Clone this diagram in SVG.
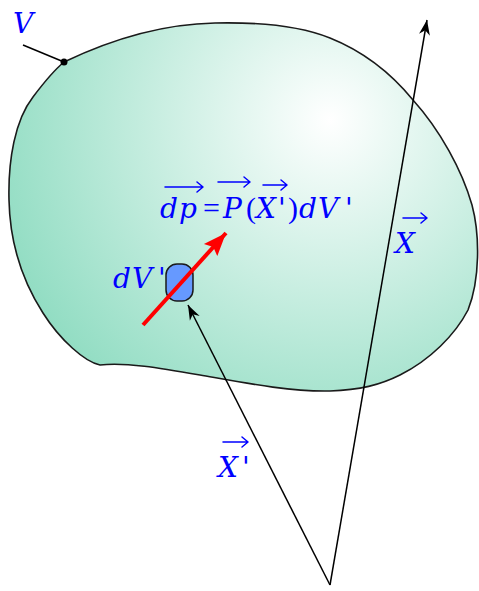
<svg xmlns="http://www.w3.org/2000/svg" width="479" height="591" viewBox="0 0 479 591">
<defs>
<radialGradient id="vol" gradientUnits="userSpaceOnUse" cx="330" cy="120" r="345">
<stop offset="0" stop-color="#ffffff"/>
<stop offset="1" stop-color="#92ddc3"/>
</radialGradient>
<marker id="ah" viewBox="-16 -7 17 14" refX="0" refY="0" markerWidth="17" markerHeight="14" orient="auto" markerUnits="userSpaceOnUse">
<path d="M0,0 L-15,-5.5 L-10.5,0 L-15,5.5 Z" fill="#000"/>
</marker>
<marker id="rh" viewBox="-24 -10 25 20" refX="0" refY="0" markerWidth="25" markerHeight="20" orient="auto" markerUnits="userSpaceOnUse">
<path d="M0,0 L-23,-9 L-19,0 L-23,9 Z" fill="#ff0000"/>
</marker>
</defs>
<style>
.m{font-family:"DejaVu Serif","Liberation Serif",serif;font-style:italic;font-size:28px;fill:#0000ff}
.u{font-style:normal;font-family:"Liberation Serif",serif;font-size:30px}
.va{fill:none;stroke:#0000ff;stroke-width:1.5;stroke-linecap:round;stroke-linejoin:round}
.ln{fill:none;stroke:#000;stroke-width:1.5}
</style>

<g id="volume">
<path d="M64,62 C110,40 160,24 215,23 C260,22 300,26 330,38 C370,54 395,78 413,100 C440,130 462,170 472,205 C480,235 480,280 468,310 C455,335 430,360 400,375 C380,385 360,390 330,391 C290,392 240,382 200,375 C160,368 125,362 100,365 C85,362 60,340 43,313 C25,285 10,250 9,200 C8,160 15,120 33,97 C42,85 52,72 64,62 Z" fill="url(#vol)" stroke="#1a1a1a" stroke-width="1.6"/>
</g>

<g id="element">
<rect x="166" y="264" width="27" height="37" rx="11" ry="11" fill="#6699ff" stroke="#1a1a1a" stroke-width="1.5"/>
</g>

<g id="connectors">
<line class="ln" x1="23" y1="45" x2="64" y2="62"/>
<circle cx="64" cy="62" r="3.5" fill="#000"/>
<line class="ln" x1="330" y1="585" x2="427" y2="20" marker-end="url(#ah)"/>
<line class="ln" x1="330" y1="585" x2="188" y2="305" marker-end="url(#ah)"/>
<line x1="143" y1="325" x2="226" y2="233" stroke="#ff0000" stroke-width="4" marker-end="url(#rh)"/>
</g>

<g id="label-V">
<text class="m" x="13" y="33">V</text>
</g>

<g id="label-dV">
<text class="m" y="288"><tspan x="113">d</tspan><tspan x="132">V</tspan><tspan x="158">'</tspan></text>
</g>

<g id="label-equation">
<text class="m" y="218"><tspan x="160">d</tspan><tspan x="179">p</tspan><tspan class="u" x="203">=</tspan><tspan x="223">P</tspan><tspan class="u" x="246">(</tspan><tspan x="256">X</tspan><tspan x="278">'</tspan><tspan class="u" x="288">)</tspan><tspan x="299">d</tspan><tspan x="318">V</tspan><tspan x="345">'</tspan></text>
<path class="va" d="M165,187 H203 M197,182 L203,187 L197,192"/>
<path class="va" d="M218,182 H250 M244,177 L250,182 L244,187"/>
<path class="va" d="M263,185 H287 M281,180 L287,185 L281,190"/>
</g>

<g id="label-X">
<text class="m" x="395" y="253">X</text>
<path class="va" d="M403,218 H427 M421,213 L427,218 L421,223"/>
</g>

<g id="label-Xp">
<text class="m" y="477"><tspan x="218">X</tspan><tspan x="242">'</tspan></text>
<path class="va" d="M223,442 H248 M242,437 L248,442 L242,447"/>
</g>
</svg>
